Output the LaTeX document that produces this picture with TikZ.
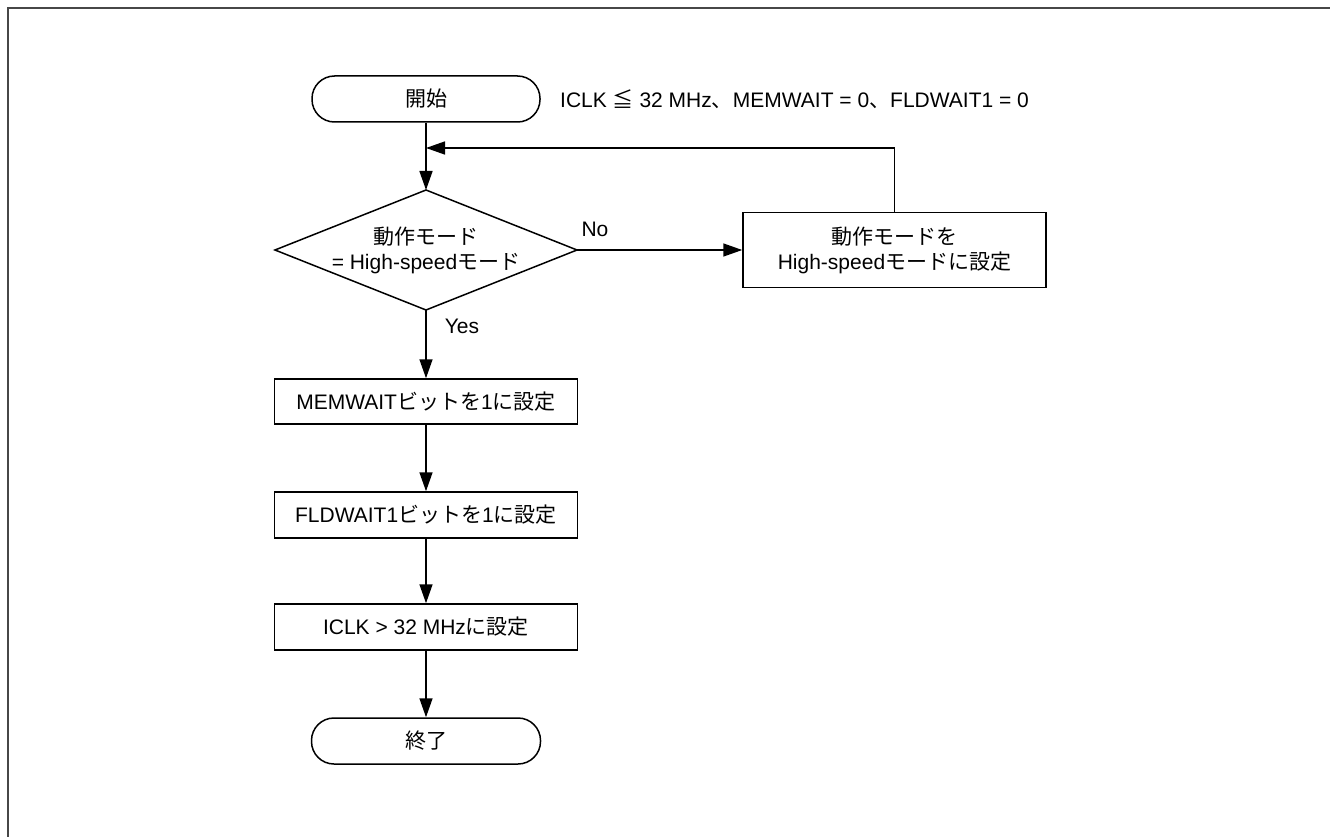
\documentclass[tikz,border=0pt]{standalone}
\usepackage{fontspec}
\setmainfont{Liberation Sans}
\newfontfamily\jp{Noto Sans CJK JP}
\usetikzlibrary{arrows.meta}
\begin{document}
\begin{tikzpicture}[x=1pt,y=-1pt,
  every node/.style={font=\fontsize{21}{25}\selectfont, inner sep=0pt},
  term/.style={draw, line width=1.5pt, rounded corners=22.5pt, minimum width=228pt, minimum height=46pt},
  procbox/.style={draw, line width=1.5pt, minimum width=303pt, minimum height=46pt, align=center},
  conn/.style={line width=1.5pt},
  arr/.style={conn, -{Triangle[length=19pt,width=13pt]}},
  lbl/.style={font=\fontsize{21}{25}\selectfont}
]
\useasboundingbox (0,0) rectangle (1330,837);
\draw[line width=2pt, color=black!72] (8,837) -- (8,8) -- (1330,8);

% start
\node[term] (start) at (426,99) {{\jp 開始}};
\node[anchor=west] (cond) at (560,99) {ICLK {\jp ≦} 32 MHz{\jp 、}MEMWAIT = 0{\jp 、}FLDWAIT1 = 0};

% decision diamond
\coordinate (dtop) at (426,190);
\coordinate (dbot) at (426,310);
\coordinate (dleft) at (275,250);
\coordinate (dright) at (577,250);
\draw[line width=1.5pt, line join=miter] (dtop) -- (dright) -- (dbot) -- (dleft) -- cycle;
\node[align=center] (dec) at (426,250) {{\jp 動作モード}\\= High-speed{\jp モード}};

% right box
\node[procbox, minimum height=75pt] (setmode) at (894.5,250) {{\jp 動作モードを}\\High-speed{\jp モードに設定}};

% process boxes
\node[procbox, minimum height=45pt] (mem) at (426,401.5) {MEMWAIT{\jp ビットを}1{\jp に設定}};
\node[procbox] (fld) at (426,515) {FLDWAIT1{\jp ビットを}1{\jp に設定}};
\node[procbox] (iclk) at (426,627) {ICLK \textgreater{} 32 MHz{\jp に設定}};
\node[term, minimum width=229pt] (fin) at (426,741) {{\jp 終了}};

% connectors
\coordinate (join) at (426,148);
\coordinate (loopc) at (setmode.north |- join);
\draw[arr] (start.south) -- (dtop);
\draw[arr] (setmode.north) -- (loopc) -- (join);
\draw[arr] (dright) -- (setmode.west);
\draw[arr] (dbot) -- (mem.north);
\draw[arr] (mem.south) -- (fld.north);
\draw[arr] (fld.south) -- (iclk.north);
\draw[arr] (iclk.south) -- (fin.north);

% labels
\node[lbl] (nolbl) at (595,229) {No};
\node[lbl] (yeslbl) at (462,326) {Yes};
\end{tikzpicture}
\end{document}
